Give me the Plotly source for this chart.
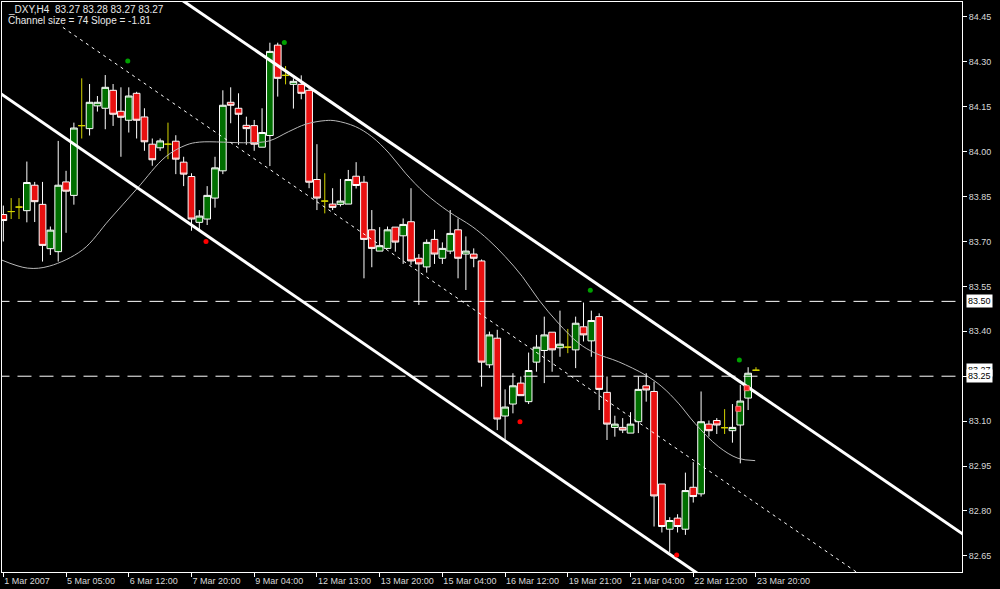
import plotly.graph_objects as go

# ---------------- data ----------------
bar_index = list(range(97))
opens = [83.79, 83.80, 83.815, 83.803, 83.888, 83.824, 83.676, 83.666, 83.899, 83.854,
         84.087, 84.077, 84.153, 84.145, 84.205, 84.135, 84.105, 84.195, 84.116, 84.025,
         84.013, 84.025, 84.035, 83.965, 83.917, 83.764, 83.775, 83.845, 83.936, 84.165,
         84.145, 84.088, 84.087, 84.015, 84.054, 84.356, 84.255, 84.225, 84.225, 84.205,
         83.907, 83.835, 83.825, 83.824, 83.825, 83.918, 83.898, 83.739, 83.668, 83.677,
         83.748, 83.719, 83.766, 83.644, 83.615, 83.707, 83.644, 83.668, 83.739, 83.658,
         83.658, 83.635, 83.288, 83.377, 83.117, 83.157, 83.227, 83.165, 83.297, 83.336,
         83.397, 83.345, 83.347, 83.338, 83.415, 83.368, 83.449, 83.196, 83.079, 83.079,
         83.06, 83.098, 83.218, 83.199, 82.89, 82.739, 82.776, 82.739, 82.879, 82.857,
         83.09, 83.102, 83.078, 83.068, 83.087, 83.177, 83.27]
highs = [83.82, 83.845, 83.845, 83.967, 83.899, 83.899, 83.75, 84.036, 83.936, 84.097,
         84.245, 84.226, 84.186, 84.256, 84.226, 84.215, 84.215, 84.20, 84.145, 84.044,
         84.044, 84.097, 84.055, 83.983, 83.928, 83.805, 83.885, 83.983, 84.205, 84.215,
         84.195, 84.117, 84.106, 84.145, 84.364, 84.364, 84.286, 84.245, 84.255, 84.215,
         84.025, 83.928, 83.878, 83.909, 83.939, 83.965, 83.919, 83.805, 83.748, 83.75,
         83.748, 83.777, 83.878, 83.658, 83.707, 83.739, 83.697, 83.805, 83.777, 83.717,
         83.677, 83.64, 83.399, 83.405, 83.206, 83.26, 83.249, 83.329, 83.388, 83.449,
         83.397, 83.469, 83.408, 83.449, 83.496, 83.469, 83.46, 83.249, 83.118, 83.11,
         83.13, 83.249, 83.26, 83.232, 82.89, 82.779, 82.789, 82.928, 82.963, 83.199,
         83.102, 83.11, 83.14, 83.157, 83.221, 83.28, 83.28]
lows = [83.70, 83.775, 83.775, 83.764, 83.765, 83.633, 83.655, 83.633, 83.729, 83.823,
        84.044, 84.054, 84.134, 84.075, 84.086, 83.983, 84.064, 84.044, 84.003, 83.953,
        84.003, 83.975, 83.925, 83.885, 83.736, 83.736, 83.755, 83.813, 83.925, 84.095,
        84.023, 84.023, 84.003, 84.015, 83.952, 84.184, 84.225, 84.144, 84.175, 83.878,
        83.805, 83.794, 83.805, 83.817, 83.825, 83.877, 83.577, 83.614, 83.668, 83.675,
        83.666, 83.625, 83.622, 83.488, 83.596, 83.625, 83.625, 83.658, 83.577, 83.538,
        83.614, 83.215, 83.277, 83.07, 83.03, 83.126, 83.185, 83.157, 83.265, 83.227,
        83.265, 83.315, 83.327, 83.277, 83.366, 83.315, 83.137, 83.037, 83.048, 83.06,
        83.06, 83.06, 83.165, 82.748, 82.728, 82.661, 82.728, 82.72, 82.828, 82.848,
        83.048, 83.057, 83.057, 83.028, 82.959, 83.137, 83.27]
closes = [83.77, 83.80, 83.815, 83.897, 83.833, 83.687, 83.738, 83.888, 83.868, 84.079,
          84.087, 84.165, 84.165, 84.215, 84.125, 84.115, 84.186, 84.105, 84.033, 83.973,
          84.036, 84.025, 83.975, 83.925, 83.775, 83.785, 83.854, 83.946, 84.155, 84.155,
          84.125, 84.077, 84.025, 84.064, 84.335, 84.245, 84.255, 84.235, 84.195, 83.898,
          83.845, 83.835, 83.814, 83.835, 83.907, 83.887, 83.707, 83.677, 83.686, 83.739,
          83.698, 83.757, 83.635, 83.625, 83.697, 83.658, 83.677, 83.727, 83.644, 83.668,
          83.644, 83.297, 83.388, 83.107, 83.147, 83.218, 83.185, 83.269, 83.347, 83.388,
          83.338, 83.357, 83.347, 83.427, 83.388, 83.436, 83.206, 83.09, 83.09, 83.07,
          83.09, 83.206, 83.204, 82.85, 82.748, 82.768, 82.748, 82.868, 82.848, 83.098,
          83.068, 83.087, 83.078, 83.079, 83.167, 83.26, 83.27]

# smoothed moving-average line (bar index, price)
ma_idx = [-0.2, 3.1, 5.9, 10.1, 13.5, 17.1, 20.7, 23.3, 25.0, 31.3, 33.9, 36.4, 38.6,
          41.1, 42.4, 44.9, 47.0, 49.2, 51.3, 53.8, 56.8, 59.8, 61.9, 64.0, 66.2, 68.3,
          70.8, 73.4, 75.5, 78.5, 81.9, 84.0, 86.1, 88.2, 91.2, 93.7, 95.9]
ma_val = [83.638, 83.611, 83.618, 83.672, 83.772, 83.878, 83.983, 84.022, 84.032, 84.03,
          84.036, 84.067, 84.092, 84.104, 84.103, 84.084, 84.05, 83.995, 83.928, 83.861,
          83.80, 83.75, 83.705, 83.65, 83.583, 83.505, 83.427, 83.36, 83.327, 83.298,
          83.254, 83.215, 83.16, 83.093, 83.015, 82.976, 82.968]

# regression channel lines (end points: bar index, price)
upper_x, upper_y = [-1, 125], [84.932, 82.676]
lower_x, lower_y = [-1, 125], [84.206, 81.934]
mid_x, mid_y = [7.6, 125], [84.415, 82.305]

# fractal dots
up_frac_x, up_frac_y = [15.87, 35.84, 74.87, 93.88], [84.303, 84.365, 83.537, 83.304]
dn_frac_x, dn_frac_y = [25.85, 65.9, 85.89], [83.70, 83.098, 82.653]
sig_x, sig_y = [93.75, 94.82], [83.141, 83.21]

# horizontal levels
h_levels = [83.50, 83.25]

# axes
x_tick_idx = [0, 8, 16, 24, 32, 40, 48, 56, 64, 72, 80, 88, 96]
x_tick_text = ["1 Mar 2007", "5 Mar 05:00", "6 Mar 12:00", "7 Mar 20:00", "9 Mar 04:00",
               "12 Mar 13:00", "13 Mar 20:00", "15 Mar 04:00", "16 Mar 12:00",
               "19 Mar 21:00", "21 Mar 04:00", "22 Mar 12:00", "23 Mar 20:00"]
y_ticks = [84.45, 84.30, 84.15, 84.00, 83.85, 83.70, 83.55, 83.40, 83.25, 83.10,
           82.95, 82.80, 82.65]

FONT = "Liberation Sans, Arial, sans-serif"

# ---------------- figure ----------------
fig = go.Figure()

reg = [i for i in bar_index if opens[i] != closes[i]]
doj = [i for i in bar_index if opens[i] == closes[i]]

fig.add_trace(go.Candlestick(
    x=[bar_index[i] for i in reg], open=[opens[i] for i in reg], high=[highs[i] for i in reg],
    low=[lows[i] for i in reg], close=[closes[i] for i in reg],
    increasing=dict(line=dict(color="#ffffff", width=1), fillcolor="#006e00"),
    decreasing=dict(line=dict(color="#ffffff", width=1), fillcolor="#e81010"),
    whiskerwidth=0, showlegend=False, hoverinfo="skip"))
fig.add_trace(go.Candlestick(
    x=[bar_index[i] for i in doj], open=[opens[i] for i in doj], high=[highs[i] for i in doj],
    low=[lows[i] for i in doj], close=[closes[i] for i in doj],
    increasing=dict(line=dict(color="#d4d400", width=1), fillcolor="#d4d400"),
    decreasing=dict(line=dict(color="#d4d400", width=1), fillcolor="#d4d400"),
    whiskerwidth=0, showlegend=False, hoverinfo="skip"))

# moving average
fig.add_trace(go.Scatter(x=ma_idx, y=ma_val, mode="lines",
                         line=dict(color="#b8b8b8", width=1, shape="spline", smoothing=1.0),
                         showlegend=False, hoverinfo="skip"))

# channel
fig.add_trace(go.Scatter(x=upper_x, y=upper_y, mode="lines", line=dict(color="#ffffff", width=3),
                         showlegend=False, hoverinfo="skip"))
fig.add_trace(go.Scatter(x=lower_x, y=lower_y, mode="lines", line=dict(color="#ffffff", width=3),
                         showlegend=False, hoverinfo="skip"))
fig.add_trace(go.Scatter(x=mid_x, y=mid_y, mode="lines",
                         line=dict(color="#ffffff", width=1, dash="3px,4px"),
                         showlegend=False, hoverinfo="skip"))

# horizontal dashed levels
for lv in h_levels:
    fig.add_trace(go.Scatter(x=[-1, 125], y=[lv, lv], mode="lines",
                             line=dict(color="#ffffff", width=1, dash="14px,8px"),
                             showlegend=False, hoverinfo="skip"))

# fractals
fig.add_trace(go.Scatter(x=up_frac_x, y=up_frac_y, mode="markers",
                         marker=dict(color="#00a000", size=5), showlegend=False, hoverinfo="skip"))
fig.add_trace(go.Scatter(x=dn_frac_x, y=dn_frac_y, mode="markers",
                         marker=dict(color="#ff0000", size=5), showlegend=False, hoverinfo="skip"))
fig.add_trace(go.Scatter(x=sig_x, y=sig_y, mode="markers",
                         marker=dict(color="#ff2020", size=5, symbol="square",
                                     line=dict(color="#ff8080", width=1)),
                         showlegend=False, hoverinfo="skip"))

# top-left info text
fig.add_annotation(xref="paper", yref="paper", x=0.004, y=0.986, xanchor="left", yanchor="middle",
                   text="_DXY,H4\u00a0\u00a0" + " ".join(f"{v:.2f}" for v in
                                                         [opens[-1], highs[-1], lows[-1], closes[-1]]),
                   showarrow=False, font=dict(family=FONT, size=10, color="#e8e8e8"))
fig.add_annotation(xref="paper", yref="paper", x=0.004, y=0.968, xanchor="left", yanchor="middle",
                   text="Channel size = 74 Slope = -1.81", showarrow=False,
                   font=dict(family=FONT, size=10, color="#e8e8e8"))

# price boxes on the axis (current price box partly hidden behind the 83.25 level box)
for val in [closes[-1], h_levels[1], h_levels[0]]:
    fig.add_annotation(xref="paper", yref="y", x=1.004, y=val, xanchor="left", yanchor="middle",
                       text=f"{val:.2f}", showarrow=False, bgcolor="#ffffff", borderpad=1,
                       font=dict(family=FONT, size=9, color="#000000"))

fig.update_layout(
    width=1000, height=589, autosize=False,
    margin=dict(l=2, r=38, t=2, b=17, pad=0),
    paper_bgcolor="#000000", plot_bgcolor="#000000",
    boxgap=0.1, boxgroupgap=0.05,
    showlegend=False,
    xaxis=dict(range=[-0.17, 122.28], showgrid=False, zeroline=False,
               showline=True, linecolor="#ffffff", linewidth=1, mirror=True,
               ticks="outside", ticklen=4, tickcolor="#ffffff",
               tickvals=x_tick_idx, ticktext=x_tick_text, ticklabelposition="outside right",
               tickfont=dict(family=FONT, size=9, color="#d8d8d8"),
               rangeslider=dict(visible=False), fixedrange=True),
    yaxis=dict(range=[82.596, 84.500], side="right", showgrid=False, zeroline=False,
               showline=True, linecolor="#ffffff", linewidth=1, mirror=True,
               ticks="outside", ticklen=4, tickcolor="#ffffff",
               tickvals=y_ticks, ticktext=[f"{v:.2f}" for v in y_ticks],
               tickfont=dict(family=FONT, size=9, color="#d8d8d8"), fixedrange=True),
)

fig.write_html("out.html", config={"displayModeBar": False},
               post_script="document.body.style.margin='0';")
